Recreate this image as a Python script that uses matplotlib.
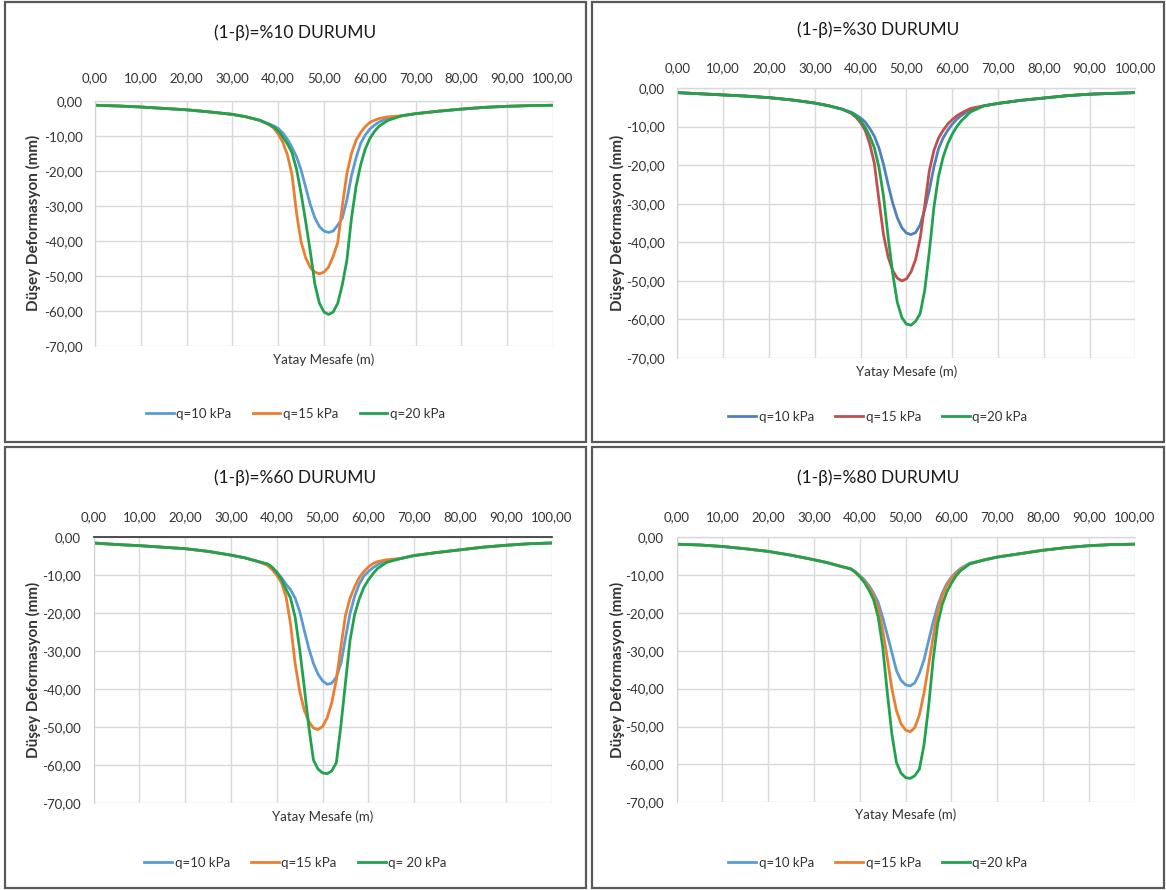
import matplotlib
matplotlib.use("Agg")
import matplotlib.pyplot as plt
from matplotlib.patches import Rectangle
from matplotlib.ticker import FuncFormatter

plt.rcParams['font.family'] = ['Lato', 'DejaVu Sans']

# yatay mesafe (m) - ortak okuma noktalari
x_m = [0, 5, 10, 15, 20, 25, 30, 33, 36, 38, 39, 40, 41, 42, 43, 44, 45, 46, 47, 48,
       49, 50, 51, 52, 53, 54, 55, 56, 57, 58, 59, 60, 61, 62, 64, 67, 70, 75, 80, 85,
       90, 95, 100]

# (1-b)=%10
sol_10 = [-1.3, -1.5, -1.8, -2.2, -2.6, -3.2, -3.9, -4.6, -5.6]
sag_10 = [-4.3, -3.7, -3.0, -2.4, -1.9, -1.6, -1.4, -1.3]
q10_p10 = sol_10 + [-6.6, -7.2, -7.9, -9.2, -11.0, -13.3, -16.0, -19.8, -24.7, -29.6, -33.4, -35.9,
                    -37.2, -37.6, -37.2, -35.5, -33.5, -28.3, -21.4, -16.3, -12.2, -9.8, -8.1, -7.0,
                    -6.1, -5.0] + sag_10
q15_p10 = sol_10 + [-6.8, -7.8, -9.5, -11.8, -15.4, -21.0, -32.0, -40.3, -44.8, -47.6, -48.9, -49.4,
                    -48.9, -47.5, -44.4, -40.5, -30.0, -20.8, -15.0, -11.3, -9.1, -7.4, -6.2, -5.6,
                    -5.1, -4.6] + sag_10
q20_p10 = sol_10 + [-6.8, -7.5, -8.6, -10.3, -12.3, -14.8, -19.5, -26.5, -34.5, -43.0, -52.3, -57.8,
                    -60.3, -61.0, -60.3, -57.8, -52.5, -45.5, -33.5, -24.5, -18.3, -13.8, -10.8, -8.8,
                    -7.3, -5.6] + sag_10

# (1-b)=%30
sol_30 = [-1.2, -1.5, -1.8, -2.1, -2.5, -3.1, -3.9, -4.6, -5.5]
sag_30 = [-4.6, -4.0, -3.2, -2.6, -2.0, -1.6, -1.4, -1.2]
q10_p30 = sol_30 + [-6.3, -7.0, -7.8, -8.8, -10.5, -12.5, -15.5, -19.8, -25.0, -29.8, -33.6, -36.2,
                    -37.6, -38.0, -37.5, -35.5, -31.5, -26.5, -20.5, -15.8, -13.0, -11.0, -9.4, -8.1,
                    -7.1, -5.6] + sag_30
q15_p30 = sol_30 + [-6.6, -7.6, -9.0, -11.0, -14.5, -19.5, -29.0, -38.0, -43.8, -47.3, -49.3, -50.0,
                    -49.5, -47.7, -44.5, -39.0, -30.5, -21.5, -16.2, -13.0, -11.0, -9.4, -8.2, -7.2,
                    -6.5, -5.3] + sag_30
q20_p30 = sol_30 + [-6.5, -7.3, -8.5, -10.2, -12.5, -15.5, -20.5, -28.0, -38.5, -48.0, -55.5, -59.5,
                    -61.2, -61.5, -60.5, -58.5, -52.5, -42.5, -31.0, -23.0, -18.0, -14.5, -12.0, -10.0,
                    -8.5, -6.2] + sag_30

# (1-b)=%60
sol_60 = [-1.5, -1.9, -2.2, -2.6, -3.0, -3.7, -4.7, -5.4, -6.4]
sag_60 = [-5.6, -4.8, -4.0, -3.3, -2.6, -2.1, -1.7, -1.5]
q10_p60 = sol_60 + [-7.2, -8.0, -9.2, -10.6, -12.3, -13.8, -16.0, -19.5, -24.5, -29.3, -33.2, -36.0,
                    -37.8, -38.7, -38.4, -36.8, -33.2, -26.5, -20.0, -15.5, -12.3, -10.2, -9.0, -8.0,
                    -7.2, -6.2] + sag_60
q15_p60 = sol_60 + [-7.4, -8.5, -10.0, -11.9, -15.5, -22.8, -33.2, -40.5, -45.5, -48.5, -50.2, -50.6,
                    -49.8, -47.5, -43.5, -37.5, -28.8, -20.5, -16.0, -13.0, -10.6, -9.0, -7.8, -6.9,
                    -6.4, -5.9] + sag_60
q20_p60 = sol_60 + [-7.0, -7.9, -9.2, -11.0, -13.6, -16.0, -21.0, -29.5, -39.5, -50.0, -58.6, -61.0,
                    -62.0, -62.2, -61.5, -59.3, -49.5, -38.2, -27.0, -20.3, -16.2, -13.2, -11.2, -9.6,
                    -8.2, -6.6] + sag_60

# (1-b)=%80
sol_80 = [-1.9, -2.1, -2.5, -3.1, -3.8, -4.8, -6.0, -6.8, -7.8]
sag_80 = [-6.1, -5.3, -4.4, -3.5, -2.8, -2.3, -2.0, -1.9]
q10_p80 = sol_80 + [-8.4, -9.1, -10.2, -11.3, -12.8, -14.8, -17.2, -21.2, -25.8, -30.5, -35.2, -37.8,
                    -39.0, -39.3, -38.5, -36.0, -32.5, -27.5, -22.5, -18.2, -14.8, -12.3, -10.6, -9.3,
                    -8.3, -6.9] + sag_80
q15_p80 = sol_80 + [-8.4, -9.2, -10.3, -11.6, -13.3, -15.5, -18.5, -24.5, -32.0, -40.0, -45.8, -49.3,
                    -50.9, -51.4, -50.3, -47.0, -41.3, -34.0, -26.5, -19.5, -15.5, -12.8, -11.0, -9.6,
                    -8.5, -7.1] + sag_80
q20_p80 = sol_80 + [-8.4, -9.3, -10.5, -12.0, -14.0, -16.5, -21.0, -29.0, -41.0, -52.0, -59.5, -62.3,
                    -63.5, -63.7, -63.0, -61.3, -55.0, -45.0, -32.5, -23.0, -17.8, -14.5, -12.2, -10.3,
                    -8.9, -7.1] + sag_80

basliklar = ["(1-β)=%10 DURUMU", "(1-β)=%30 DURUMU", "(1-β)=%60 DURUMU", "(1-β)=%80 DURUMU"]
seriler = [[q10_p10, q15_p10, q20_p10], [q10_p30, q15_p30, q20_p30],
           [q10_p60, q15_p60, q20_p60], [q10_p80, q15_p80, q20_p80]]
etiketler = [["q=10 kPa", "q=15 kPa", "q=20 kPa"], ["q=10 kPa", "q=15 kPa", "q=20 kPa"],
             ["q=10 kPa", "q=15 kPa", "q= 20 kPa"], ["q=10 kPa", "q=15 kPa", "q=20 kPa"]]
renkler = [["#5B9BD5", "#ED7D31", "#21A24D"], ["#4F81BD", "#C0504D", "#21A24D"],
           ["#5B9BD5", "#ED7D31", "#21A24D"], ["#5B9BD5", "#ED7D31", "#21A24D"]]

W, H = 1166, 890
fig = plt.figure(figsize=(W / 100, H / 100), dpi=100)

# piksel cinsinden yerlesim (sol, sag, ust, alt)
kutular = [(5, 586, 2, 442), (592, 1164, 2, 442), (5, 586, 447, 888), (592, 1164, 447, 888)]
alanlar = [(95, 553, 100.7, 346), (677.4, 1135.4, 88, 358), (93.6, 551.6, 537.3, 803.3),
           (676.6, 1134.6, 537, 802.3)]
baslik_y = [33, 30, 478, 478]
xlabel_y = [360, 372, 817, 815]
ylabel_x = [33, 617, 33, 617]
legend_y = [414, 417, 863, 863]
xpad = [12.0, 10.0, 10.0, 9.8]

fmt = FuncFormatter(lambda v, p: f"{v:.2f}".replace(".", ","))

for i in range(4):
    bl, br, bt, bb = kutular[i]
    fig.patches.append(Rectangle((bl / W, 1 - bb / H), (br - bl) / W, (bb - bt) / H,
                                 transform=fig.transFigure, fill=False,
                                 edgecolor="#595959", linewidth=1.6))
    l, r, t, b = alanlar[i]
    ax = fig.add_axes([l / W, 1 - b / H, (r - l) / W, (b - t) / H])
    cizgiler = []
    for y, lab, c in zip(seriler[i], etiketler[i], renkler[i]):
        ln, = ax.plot(x_m, y, color=c, lw=2.0, label=lab, solid_joinstyle="round")
        cizgiler.append(ln)
    ax.set_xlim(0, 100)
    ax.set_ylim(-70, 0)
    ax.set_xticks(range(0, 101, 10))
    ax.set_yticks(range(-70, 1, 10))
    ax.xaxis.set_major_formatter(fmt)
    ax.yaxis.set_major_formatter(fmt)
    ax.xaxis.tick_top()
    ax.tick_params(axis="x", length=0, pad=xpad[i], labelsize=9.5, colors="#333333")
    ax.tick_params(axis="y", length=0, pad=9.0, labelsize=9.5, colors="#333333")
    ax.grid(color="#d9d9d9", linewidth=1)
    ax.set_axisbelow(True)
    for s in ["bottom", "right"]:
        ax.spines[s].set_visible(False)
    ax.spines["left"].set_color("#d0d0d0")
    ax.spines["top"].set_color("#404040" if i == 2 else "#d9d9d9")
    ax.spines["top"].set_linewidth(1.3 if i == 2 else 1)

    cx = (bl + br) / 2
    fig.text(cx / W, 1 - baslik_y[i] / H, basliklar[i], ha="center", va="center",
             fontsize=12.5, color="#1a1a1a")
    fig.text(((l + r) / 2) / W, 1 - xlabel_y[i] / H, "Yatay Mesafe (m)", ha="center",
             va="center", fontsize=9.5, color="#333333")
    fig.text(ylabel_x[i] / W, 1 - ((t + b) / 2) / H, "Düşey Deformasyon (mm)", rotation=90,
             ha="center", va="center", fontsize=11, fontweight="bold", color="#333333")
    fig.legend(handles=cizgiler, loc="center", bbox_to_anchor=(cx / W, 1 - legend_y[i] / H),
               ncol=3, frameon=False, fontsize=9.5, handlelength=2.1, handletextpad=0.2,
               columnspacing=1.6, labelcolor="#333333")

fig.savefig("out.png", dpi=100)
